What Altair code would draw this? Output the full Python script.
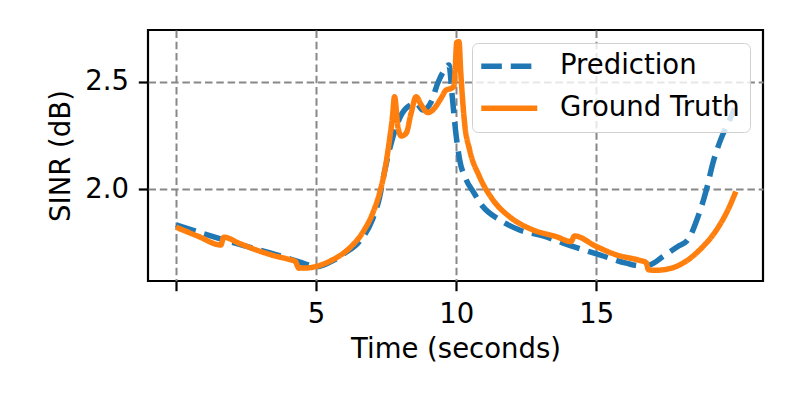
import altair as alt
import pandas as pd

# ---- data ----
series_names = ["Prediction", "Ground Truth"]
series_colors = ["#1f77b4", "#ff7f0e"]

pred_t = [0, 1.0, 2.0, 3.0, 4.0, 4.6, 5.0, 5.5, 6.0, 6.55, 7.0, 7.26, 7.44, 7.65,
          7.86, 8.21, 8.57, 8.81, 9.11, 9.34, 9.58, 9.74, 9.86, 9.975, 10.12, 10.36,
          10.6, 10.95, 11.55, 12.26, 13.1, 14.16, 15.12, 16.07, 16.55, 16.9, 17.38,
          17.91, 18.27, 18.63, 18.93, 19.16, 19.46, 19.76, 19.94]
pred_v = [1.834, 1.792, 1.752, 1.716, 1.678, 1.652, 1.638, 1.66, 1.70, 1.757, 1.855,
          1.96, 2.08, 2.20, 2.292, 2.377, 2.40, 2.369, 2.408, 2.494, 2.556, 2.579,
          2.431, 2.276, 2.14, 2.043, 1.99, 1.919, 1.857, 1.81, 1.782, 1.733, 1.694,
          1.655, 1.643, 1.647, 1.686, 1.733, 1.764, 1.872, 1.997, 2.121, 2.238,
          2.323, 2.377]

truth_t = [0, 0.8, 1.6, 1.7, 2.3, 2.9, 3.5, 4.05, 4.26, 4.38, 4.7, 5.0, 5.59, 6.19,
           6.67, 7.02, 7.26, 7.44, 7.62, 7.72, 7.8, 7.92, 8.04, 8.21, 8.39, 8.57,
           8.75, 8.99, 9.22, 9.46, 9.64, 9.82, 9.92, 9.96, 10.02, 10.1, 10.16, 10.3,
           10.48, 10.83, 11.31, 11.9, 12.74, 13.57, 14.1, 14.22, 15.0, 15.71, 16.55,
           16.78, 16.86, 17.1, 17.38, 18.09, 18.69, 19.29, 19.7, 19.98]
truth_v = [1.823, 1.78, 1.74, 1.776, 1.745, 1.715, 1.69, 1.672, 1.663, 1.632, 1.633,
           1.64, 1.671, 1.725, 1.80, 1.888, 1.98, 2.08, 2.23, 2.33, 2.431, 2.29,
           2.248, 2.26, 2.354, 2.431, 2.393, 2.357, 2.377, 2.424, 2.462, 2.47, 2.48,
           2.55, 2.685, 2.687, 2.55, 2.307, 2.183, 2.059, 1.95, 1.872, 1.81, 1.779,
           1.756, 1.782, 1.733, 1.694, 1.668, 1.658, 1.624, 1.622, 1.624, 1.655,
           1.717, 1.81, 1.904, 1.989]

x_ticks = [0, 5, 10, 15]
y_ticks = [2.0, 2.5]

df = pd.concat([
    pd.DataFrame({"t": pred_t, "v": pred_v, "series": series_names[0],
                  "i": range(len(pred_t))}),
    pd.DataFrame({"t": truth_t, "v": truth_v, "series": series_names[1],
                  "i": range(len(truth_t))}),
], ignore_index=True)

FONT = "DejaVu Sans"
FS = 27.5

legend = alt.Legend(
    title=None, orient="top-right", offset=13, padding=9.5,
    fillColor="rgba(255,255,255,0.8)", strokeColor="#d0d0d0", cornerRadius=6,
    symbolType="M-1.4,0H4.2", symbolSize=400, symbolStrokeWidth=5.5,
    labelFont=FONT, labelFontSize=FS, labelColor="black", labelOffset=51,
    labelLimit=0, rowPadding=13,
)

x = alt.X("t:Q", title="Time (seconds)",
          scale=alt.Scale(domain=[-1.0, 20.95], nice=False, zero=False),
          axis=alt.Axis(values=x_ticks, labelExpr="datum.value == 0 ? '' : datum.label",
                        titlePadding=8))
y = alt.Y("v:Q", title="SINR (dB)",
          scale=alt.Scale(domain=[1.572, 2.742], nice=False, zero=False),
          axis=alt.Axis(values=y_ticks, format=".1f", titlePadding=9))
color = alt.Color("series:N", scale=alt.Scale(domain=series_names, range=series_colors),
                  legend=legend)
dash = alt.StrokeDash("series:N",
                      scale=alt.Scale(domain=series_names, range=[[20.6, 8.9], [1, 0]]),
                      legend=legend)

base = alt.Chart(df).mark_line(strokeWidth=5.5, strokeJoin="round",
                               interpolate="monotone").encode(
    x=x, y=y, color=color, strokeDash=dash, order="i:Q")

pred = base.transform_filter(alt.datum.series == series_names[0])
truth = base.transform_filter(alt.datum.series == series_names[1])

chart = alt.layer(pred, truth).properties(
    width=615, height=251,
    autosize=alt.AutoSizeParams(type="none"),
    padding={"left": 140, "top": 22, "right": 20, "bottom": 90},
).configure_view(
    stroke="black", strokeWidth=2.2
).configure_axis(
    domain=False, tickColor="black", tickWidth=2.2, tickSize=9.7,
    labelPadding=9.7, labelFont=FONT, labelFontSize=FS, labelColor="black",
    titleFont=FONT, titleFontSize=FS, titleFontWeight="normal", titleColor="black",
    grid=True, gridColor="#888888", gridDash=[7.5, 3.8], gridWidth=2,
)

chart.save("out.html", embed_options={"renderer": "svg", "actions": False})
